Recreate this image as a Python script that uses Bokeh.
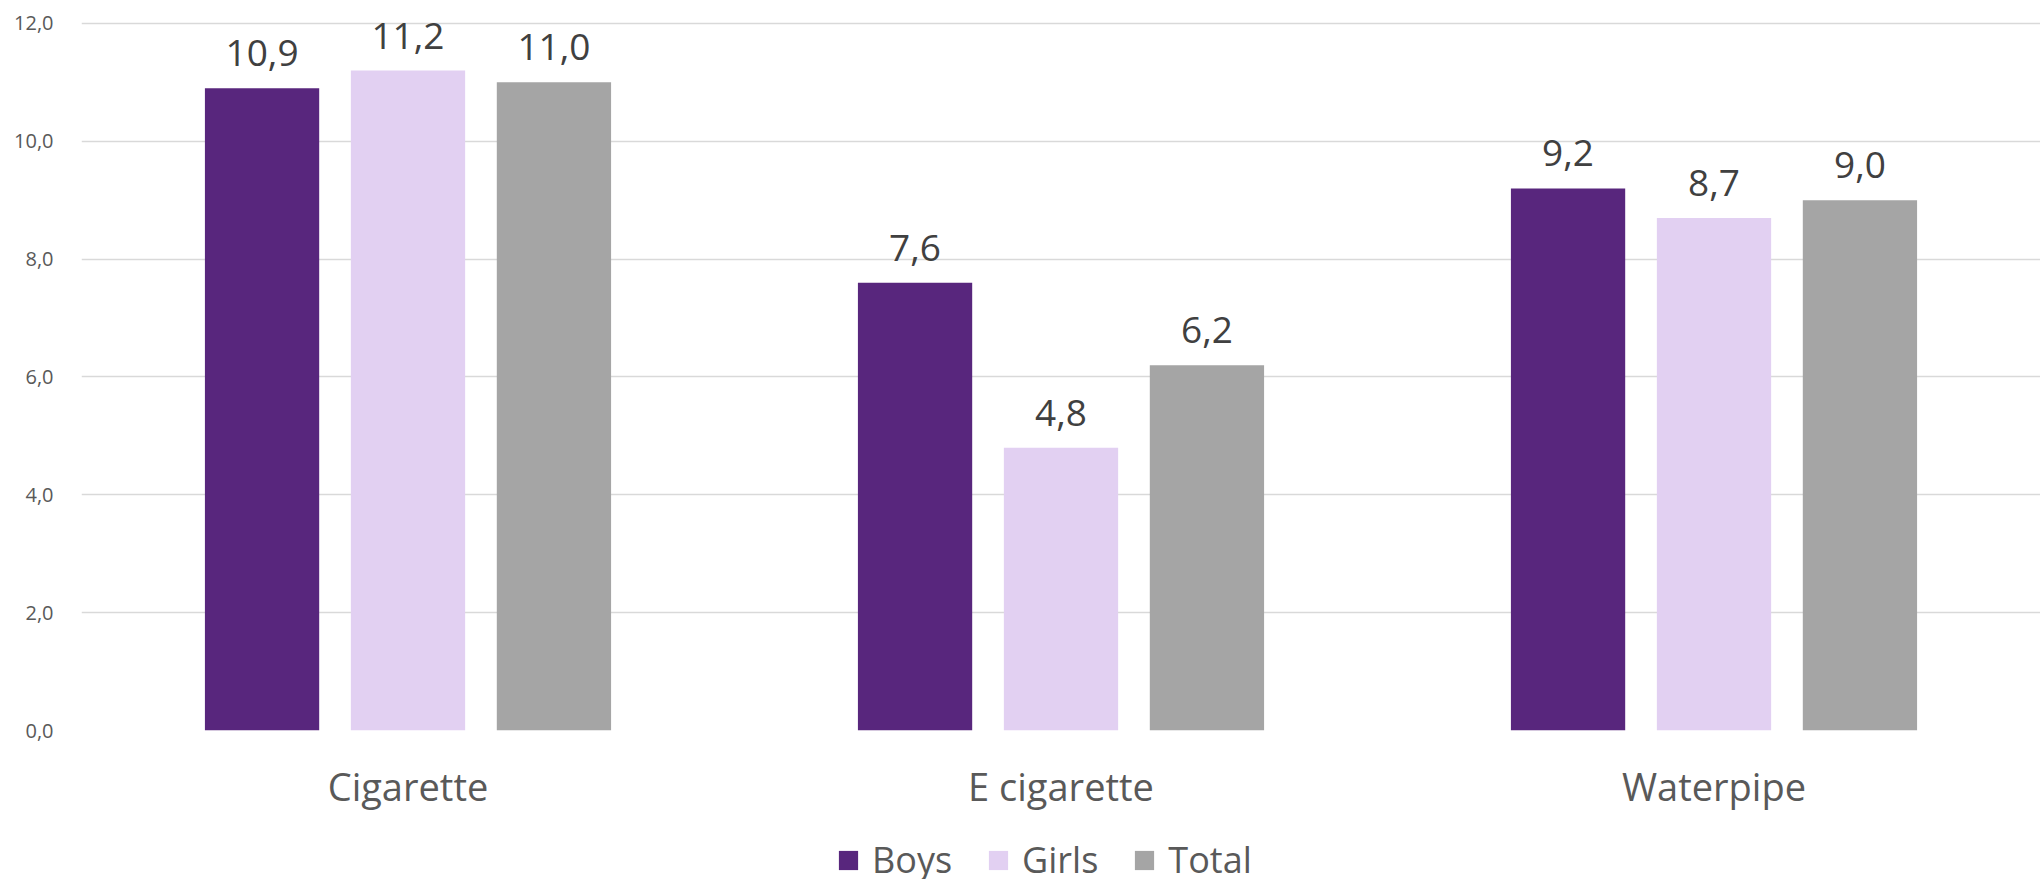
from bokeh.plotting import figure
from bokeh.layouts import column
from bokeh.models import FactorRange, Range1d, LabelSet, ColumnDataSource, Legend, LegendItem, FixedTicker
from bokeh.transform import dodge
from bokeh.core.properties import value
from bokeh.embed import file_html
from bokeh.resources import INLINE

categories = ["Cigarette", "E cigarette", "Waterpipe"]
series = ["Boys", "Girls", "Total"]
boys = [10.9, 7.6, 9.2]
girls = [11.2, 4.8, 8.7]
total = [11.0, 6.2, 9.0]
colors = ["#58267D", "#E2D0F2", "#A5A5A5"]
y_ticks = [0, 2, 4, 6, 8, 10, 12]
y_tick_labels = ["0,0", "2,0", "4,0", "6,0", "8,0", "10,0", "12,0"]

FONT = "Open Sans"

def fmt(v):
    return ("%.1f" % v).replace(".", ",")

src = ColumnDataSource(dict(
    cat=categories, Boys=boys, Girls=girls, Total=total,
    Boys_l=[fmt(v) for v in boys], Girls_l=[fmt(v) for v in girls], Total_l=[fmt(v) for v in total],
))

p = figure(x_range=FactorRange(*categories, range_padding=0), y_range=Range1d(0, 12.05),
           frame_width=1959, frame_height=710, output_backend="svg", toolbar_location=None,
           min_border_top=20, min_border_right=0, min_border_left=81, min_border_bottom=90)
p.outline_line_color = None
p.background_fill_color = "white"

step = 0.2235
width = 0.175
offsets = [-step, 0, step]
for s, c, off in zip(series, colors, offsets):
    p.vbar(x=dodge("cat", off, range=p.x_range), top=s, width=width, source=src,
           fill_color=c, line_color=None)
    lab = LabelSet(x=dodge("cat", off, range=p.x_range), y=s, text=s + "_l", source=src,
                   text_align="center", text_baseline="alphabetic", y_offset=22,
                   text_font=value(FONT), text_font_size=value("37px"), text_color="#404040")
    p.add_layout(lab)

p.yaxis.ticker = FixedTicker(ticks=y_ticks)
p.yaxis.major_label_overrides = {t: l for t, l in zip(y_ticks, y_tick_labels)}
p.yaxis.axis_line_color = None
p.yaxis.major_tick_line_color = None
p.yaxis.minor_tick_line_color = None
p.yaxis.major_label_text_font = FONT
p.yaxis.major_label_text_font_size = "20px"
p.yaxis.major_label_text_color = "#595959"
p.yaxis.major_label_standoff = 22

p.xaxis.axis_line_color = None
p.xaxis.major_tick_line_color = None
p.xaxis.minor_tick_line_color = None
p.xaxis.major_label_text_font = FONT
p.xaxis.major_label_text_font_size = "38px"
p.xaxis.major_label_text_color = "#595959"
p.xaxis.major_label_standoff = 23

p.xgrid.grid_line_color = None
p.ygrid.grid_line_color = "#D9D9D9"
p.ygrid.grid_line_width = 1.5
p.ygrid.ticker = FixedTicker(ticks=y_ticks)

# legend strip below the chart
pl = figure(x_range=Range1d(0, 1), y_range=Range1d(0, 1), frame_width=1959, frame_height=59,
            output_backend="svg", toolbar_location=None, x_axis_type=None, y_axis_type=None,
            min_border_left=81, min_border_right=0, min_border_top=0, min_border_bottom=0)
pl.outline_line_color = None
pl.xgrid.grid_line_color = None
pl.ygrid.grid_line_color = None
# zero-height swatch renderers: they only supply the legend swatches
dummies = [pl.vbar(x=[0.5], top=[0], bottom=[0], width=0.01, fill_color=c, line_color=None)
           for c in colors]
legend = Legend(items=[LegendItem(label=s, renderers=[r]) for s, r in zip(series, dummies)],
                orientation="horizontal", location=(755, -5),
                label_text_font=FONT, label_text_font_size="36px", label_text_color="#595959",
                glyph_width=24, glyph_height=24, label_standoff=12, spacing=34,
                border_line_color=None, background_fill_alpha=0, padding=0, margin=0)
pl.add_layout(legend, "center")

layout = column(p, pl, spacing=0)
open("out.html", "w").write(file_html(layout, INLINE))
